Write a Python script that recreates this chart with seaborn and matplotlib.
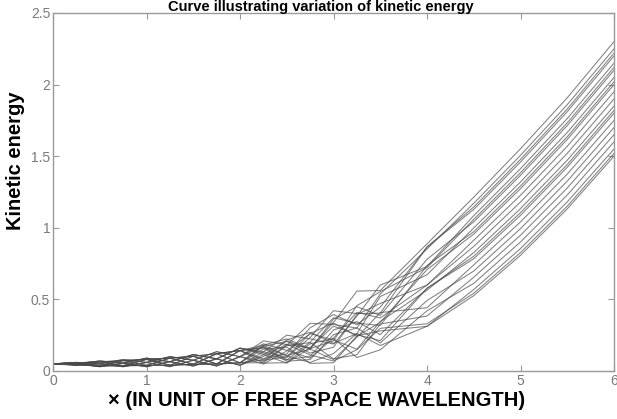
import matplotlib
matplotlib.use("Agg")
import matplotlib.pyplot as plt
import seaborn as sns
import pandas as pd

x_vals = [0, 0.25, 0.5, 0.75, 1, 1.25, 1.5, 1.75, 2, 2.25, 2.5, 2.75, 3, 3.25, 3.5, 4, 4.5, 5, 5.5, 6]

curves = [
    [.05,.06,.05,.03,.06,.10,.075,.035,.10,.21,.185,.162,.338,.558,.562,.888,1.214,1.552,1.908,2.3],
    [.05,.04,.05,.08,.06,.03,.075,.135,.10,.068,.18,.333,.325,.30,.538,.852,1.171,1.506,1.86,2.25],
    [.05,.05,.03,.055,.09,.065,.035,.085,.16,.135,.095,.234,.421,.401,.404,.866,1.128,1.459,1.811,2.2],
    [.05,.05,.07,.055,.03,.065,.115,.085,.04,.133,.25,.225,.188,.383,.60,.73,1.085,1.413,1.763,2.15],
    [.05,.057,.036,.037,.081,.09,.047,.049,.143,.18,.108,.152,.362,.449,.388,.78,1.042,1.366,1.714,2.1],
    [.05,.043,.064,.073,.039,.04,.103,.121,.057,.078,.217,.271,.193,.261,.52,.672,.999,1.32,1.666,2.05],
    [.05,.043,.036,.073,.081,.04,.047,.121,.143,.075,.098,.262,.335,.242,.34,.708,.956,1.273,1.617,2.0],
    [.05,.057,.064,.037,.039,.09,.103,.049,.057,.173,.207,.125,.166,.394,.472,.60,.913,1.227,1.569,1.95],
    [.05,.06,.05,.03,.06,.10,.075,.035,.10,.19,.145,.09,.23,.41,.37,.60,.87,1.18,1.52,1.9],
    [.05,.04,.05,.08,.06,.03,.075,.135,.10,.048,.14,.261,.217,.152,.346,.564,.827,1.134,1.472,1.85],
    [.05,.05,.03,.055,.09,.065,.035,.085,.16,.115,.055,.162,.313,.253,.212,.578,.784,1.087,1.423,1.8],
    [.05,.05,.07,.055,.03,.065,.115,.085,.04,.113,.21,.153,.08,.235,.408,.442,.741,1.041,1.375,1.75],
    [.05,.057,.036,.037,.081,.09,.047,.049,.143,.16,.068,.08,.254,.301,.196,.492,.698,.994,1.326,1.7],
    [.05,.043,.064,.073,.039,.04,.103,.121,.057,.058,.177,.199,.085,.113,.328,.384,.655,.948,1.278,1.65],
    [.05,.043,.036,.073,.081,.04,.047,.121,.143,.055,.058,.19,.227,.094,.148,.42,.612,.901,1.229,1.6],
    [.05,.057,.064,.037,.039,.09,.103,.049,.057,.153,.167,.053,.058,.246,.28,.312,.569,.855,1.181,1.55],
    [.05,.06,.05,.03,.06,.10,.075,.035,.10,.17,.105,.06,.122,.262,.178,.312,.526,.808,1.132,1.5],
    [.05,.05,.03,.055,.09,.065,.035,.085,.16,.126,.077,.202,.372,.334,.318,.736,.973,1.292,1.636,2.02],
    [.05,.057,.036,.037,.081,.09,.047,.049,.143,.166,.08,.102,.286,.345,.254,.578,.801,1.106,1.442,1.82],
    [.05,.057,.064,.037,.039,.09,.103,.049,.057,.181,.224,.156,.211,.456,.554,.722,1.059,1.385,1.733,2.12],
    [.05,.05,.07,.055,.03,.065,.115,.085,.04,.101,.187,.112,.07,.149,.298,.33,.543,.827,1.151,1.52],
    [.05,.043,.036,.073,.081,.04,.047,.121,.143,.086,.12,.302,.394,.323,.446,.866,1.145,1.478,1.83,2.22],
]

x_ticks = [0, 1, 2, 3, 4, 5, 6]
y_ticks = [0, 0.5, 1, 1.5, 2, 2.5]
y_tick_labels = ["0", "0.5", "1", "1.5", "2", "2.5"]

rows = []
for ci, ys in enumerate(curves):
    for xv, yv in zip(x_vals, ys):
        rows.append({"curve": ci, "x": xv, "ke": yv})
df = pd.DataFrame(rows)

sns.set_theme(style="white")
plt.rcParams["font.family"] = ["Liberation Sans", "DejaVu Sans"]

fig = plt.figure(figsize=(6.17, 4.19), dpi=100)
ax = fig.add_axes([53/617, 1 - 371/419, (614 - 53)/617, (371 - 13)/419])

sns.lineplot(data=df, x="x", y="ke", units="curve", estimator=None,
             color="#4a4a4a", linewidth=0.75, alpha=0.7, ax=ax, legend=False)

ax.set_xlim(0, 6)
ax.set_ylim(0, 2.5)
ax.set_xticks(x_ticks)
ax.set_xticklabels([str(t) for t in x_ticks])
ax.set_yticks(y_ticks)
ax.set_yticklabels(y_tick_labels)

for s in ax.spines.values():
    s.set_visible(True)
    s.set_color("#9a9a9a")
    s.set_linewidth(1.0)

ax.tick_params(axis="both", direction="in", length=4, width=0.8, color="#9a9a9a",
               labelcolor="#7a7a7a", labelsize=10, top=True, right=True,
               bottom=True, left=True, pad=2)

ax.set_xlabel("× (IN UNIT OF FREE SPACE WAVELENGTH)", fontsize=14.5, fontweight="bold",
              color="black")
ax.xaxis.set_label_coords(0.47, -0.055)
ax.set_ylabel("Kinetic energy", fontsize=14.5, fontweight="bold", color="black")
ax.yaxis.set_label_coords(-0.05, 0.587)

fig.text(0.52, 1.0, "Curve illustrating variation of kinetic energy", ha="center",
         va="top", fontsize=10.5, fontweight="bold", color="black")

fig.savefig("out.png", dpi=100)
